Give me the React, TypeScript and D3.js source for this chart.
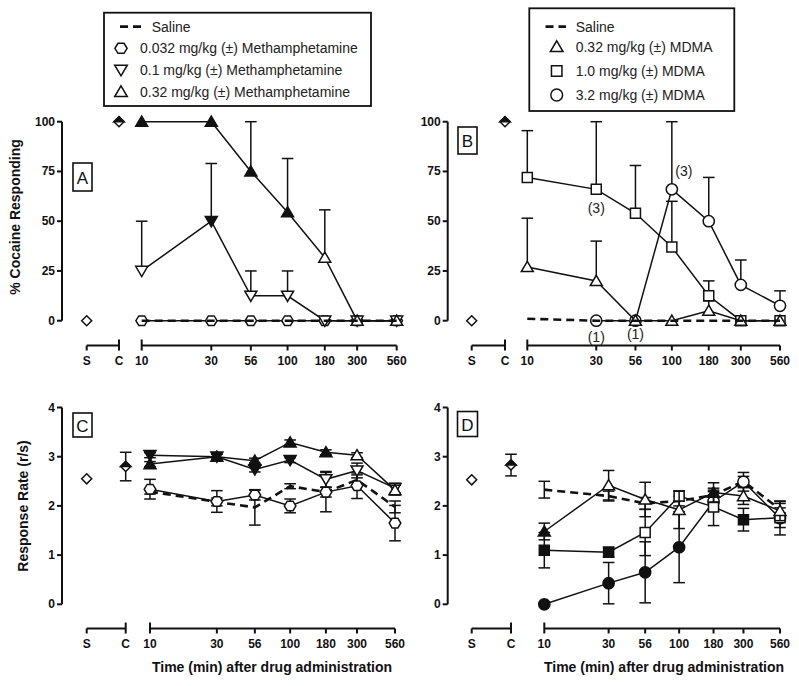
import React from "react";
import * as d3 from "d3";

// ---------- shared axis data ----------
const timePoints = [10, 30, 56, 100, 180, 300, 560];
const timeTickLabels = ["10", "30", "56", "100", "180", "300", "560"];
const controlLabels = ["S", "C"];
const pctTicks = [0, 25, 50, 75, 100];
const rateTicks = [0, 1, 2, 3, 4];

// ---------- Panel A: % cocaine responding, methamphetamine ----------
const salineA = [0, 0, 0, 0, 0, 0, 0];
const meth0032A = [0, 0, 0, 0, 0, 0, 0];
const meth01A = [25, 50, 12.5, 12.5, 0, 0, 0];
const meth01AErr = [25, 29, 12.5, 12.5, 0, 0, 0];
const meth01AFilled = [false, true, false, false, false, false, false];
const meth032A = [100, 100, 75, 54.5, 31.7, 0, 0];
const meth032AErr = [0, 0, 25, 27, 24, 0, 0];
const meth032AFilled = [true, true, true, true, false, false, false];
const controlsA = [0, 100];

// ---------- Panel B: % cocaine responding, MDMA ----------
const salineB = [1, 0, 0, 0, 0, 0, 0];
const mdma032B = [27, 20, 0, 0, 5, 0, 0];
const mdma032BErr = [24.5, 20, 0, 0, 5, 0, 0];
const mdma1B = [72, 66, 54, 37, 12.5, 0, 0];
const mdma1BErr = [23.5, 34, 24, 23, 7.5, 0, 0];
const mdma32B: (number | null)[] = [null, 0, 0, 66, 50, 18, 7.5];
const mdma32BErr = [0, 0, 0, 34, 22, 12.5, 7.5];
const controlsB = [0, 100];
const annotTimesB = [30, 30, 56, 100];
const annotTextsB = ["(3)", "(1)", "(1)", "(3)"];
const annotValuesB = [56.5, -8, -6.8, 75.4];

// ---------- Panel C: response rate, methamphetamine ----------
const salineC = [2.29, 2.08, 1.97, 2.4, 2.28, 2.53, 1.98];
const salineCErr = [0.05, 0.08, 0.36, 0.05, 0.1, 0.1, 0.12];
const meth0032C = [2.34, 2.09, 2.22, 2.0, 2.28, 2.41, 1.65];
const meth0032CErr = [0.2, 0.22, 0.1, 0.14, 0.4, 0.26, 0.36];
const meth01C = [3.03, 3.0, 2.74, 2.93, 2.54, 2.72, 2.36];
const meth01CErr = [0.05, 0.05, 0.05, 0.05, 0.16, 0.15, 0.1];
const meth01CFilled = [true, true, true, true, false, false, false];
const meth032C = [2.85, 3.0, 2.92, 3.29, 3.09, 3.03, 2.32];
const meth032CErr = [0.05, 0.05, 0.05, 0.05, 0.05, 0.05, 0.1];
const meth032CFilled = [true, true, true, true, true, false, false];
const controlsC = [2.55, 2.8];
const controlErrC = 0.29;

// ---------- Panel D: response rate, MDMA ----------
const salineD = [2.33, 2.2, 2.05, 2.1, 2.22, 2.5, 1.93];
const salineDErr = [0.17, 0.1, 0.12, 0.1, 0.1, 0.1, 0.12];
const mdma032D = [1.48, 2.42, 2.13, 1.92, 2.27, 2.2, 1.9];
const mdma032DErr = [0.17, 0.3, 0.35, 0.38, 0.2, 0.17, 0.2];
const mdma032DFilled = [true, false, false, false, true, false, false];
const mdma1D = [1.1, 1.06, 1.46, 2.2, 1.98, 1.72, 1.76];
const mdma1DErr = [0.36, 0.1, 0.47, 0.1, 0.38, 0.23, 0.2];
const mdma1DFilled = [true, true, false, false, false, true, false];
const mdma32D = [0.0, 0.43, 0.65, 1.16, 2.09, 2.49, 1.75];
const mdma32DErr = [0, 0.42, 0.62, 0.72, 0.2, 0.19, 0.34];
const mdma32DFilled = [true, true, true, true, false, false, false];
const controlsD = [2.53, 2.83];
const controlErrD = 0.22;

// ---------- legends ----------
const legendLeftLabels = [
  "Saline",
  "0.032 mg/kg (\u00b1) Methamphetamine",
  "0.1 mg/kg (\u00b1) Methamphetamine",
  "0.32 mg/kg (\u00b1) Methamphetamine",
];
const legendLeftShapes: Shape[] = ["dash", "hexagon", "triDown", "triUp"];
const legendRightLabels = [
  "Saline",
  "0.32 mg/kg (\u00b1) MDMA",
  "1.0 mg/kg (\u00b1) MDMA",
  "3.2 mg/kg (\u00b1) MDMA",
];
const legendRightShapes: Shape[] = ["dash", "triUp", "square", "circle"];

// ---------- drawing helpers ----------
type Shape = "triUp" | "triDown" | "square" | "circle" | "hexagon" | "diamond" | "dash" | "none";
const FONT = "'Liberation Sans', Arial, Helvetica, sans-serif";
const INK = "#111";

interface Series {
  values: (number | null)[];
  errs: number[];
  filled: boolean[];
  shape: Shape;
  dashed?: boolean;
}

const allFalse = timePoints.map(() => false);
const zeros = timePoints.map(() => 0);

function shapePath(shape: Shape, k = 1): string {
  switch (shape) {
    case "triUp":
      return `M0,${-5.6 * k}L${6 * k},${4.6 * k}L${-6 * k},${4.6 * k}Z`;
    case "triDown":
      return `M0,${5.6 * k}L${6 * k},${-4.6 * k}L${-6 * k},${-4.6 * k}Z`;
    case "square":
      return `M${-5 * k},${-5 * k}h${10 * k}v${10 * k}h${-10 * k}Z`;
    case "hexagon": {
      const r = 5.8 * k;
      const pts = d3.range(6).map((i) => {
        const a = (Math.PI / 3) * i;
        return [r * Math.cos(a), r * 0.95 * Math.sin(a)];
      });
      return "M" + pts.map((p) => p.join(",")).join("L") + "Z";
    }
    case "diamond":
      return `M0,${-5 * k}L${5 * k},0L0,${5 * k}L${-5 * k},0Z`;
    default:
      return "";
  }
}

function Marker({ shape, cx, cy, filled, k = 1 }: { shape: Shape; cx: number; cy: number; filled: boolean; k?: number }) {
  const fill = filled ? INK : "#fff";
  if (shape === "circle") {
    return <circle cx={cx} cy={cy} r={5.6 * k} fill={fill} stroke={INK} strokeWidth={1.5} />;
  }
  return (
    <path d={shapePath(shape, k)} transform={`translate(${cx},${cy})`} fill={fill} stroke={INK} strokeWidth={1.5} strokeLinejoin="miter" />
  );
}

interface PanelCfg {
  xRange: [number, number];
  scRange: [number, number];
  yRange: [number, number];
  yTicks: number[];
  axisX: number;
  bracketY: number;
  box: { x: number; y: number; w: number; h: number; text: string };
  series: Series[];
  saline: Series;
  salineFirst: boolean;
  errBoth: boolean;
  controls: number[];
  controlErr: number;
  annotations?: { t: number; v: number; text: string; dx: number }[];
}

function Panel({ cfg }: { cfg: PanelCfg }) {
  const x = d3.scaleLog().domain([timePoints[0], timePoints[timePoints.length - 1]]).range(cfg.xRange);
  const xc = d3.scalePoint<string>().domain(controlLabels).range(cfg.scRange);
  const y = d3
    .scaleLinear()
    .domain([cfg.yTicks[0], cfg.yTicks[cfg.yTicks.length - 1]])
    .range(cfg.yRange);
  const lineGen = d3
    .line<number | null>()
    .defined((v) => v != null)
    .x((_, i) => x(timePoints[i]))
    .y((v) => y(v as number));

  const ordered = cfg.salineFirst ? [cfg.saline, ...cfg.series] : [...cfg.series, cfg.saline];
  const cap = 5.8;

  const renderSeries = (s: Series, si: number) => (
    <g key={si}>
      <path
        d={lineGen(s.values) || ""}
        fill="none"
        stroke={INK}
        strokeWidth={s.dashed ? 2.6 : 1.5}
        strokeDasharray={s.dashed ? "8,5" : undefined}
      />
      {s.values.map((v, i) => {
        const e = s.errs[i];
        if (v == null || !e) return null;
        const px = x(timePoints[i]);
        const top = y(v + e);
        const bot = cfg.errBoth ? y(v - e) : y(v);
        return (
          <g key={"e" + i} stroke={INK} strokeWidth={1.5}>
            <line x1={px} x2={px} y1={top} y2={bot} />
            <line x1={px - cap} x2={px + cap} y1={top} y2={top} />
            {cfg.errBoth && <line x1={px - cap} x2={px + cap} y1={bot} y2={bot} />}
          </g>
        );
      })}
      {s.shape !== "none" &&
        s.values.map((v, i) =>
          v == null ? null : <Marker key={"m" + i} shape={s.shape} cx={x(timePoints[i])} cy={y(v)} filled={s.filled[i]} />
        )}
    </g>
  );

  const sx = xc("S") as number;
  const cx = xc("C") as number;
  const cy = y(cfg.controls[1]);
  const d = 5.2;

  return (
    <g>
      {/* y axis */}
      <line x1={cfg.axisX} x2={cfg.axisX} y1={cfg.yRange[0]} y2={cfg.yRange[1]} stroke={INK} strokeWidth={2} />
      {cfg.yTicks.map((t) => (
        <g key={t}>
          <line x1={cfg.axisX - 5} x2={cfg.axisX} y1={y(t)} y2={y(t)} stroke={INK} strokeWidth={2} />
          <text
            x={cfg.axisX - 7}
            y={y(t)}
            textAnchor="end"
            dominantBaseline="central"
            fontFamily={FONT}
            fontWeight="bold"
            fontSize={12}
            fill={INK}
          >
            {t}
          </text>
        </g>
      ))}
      {/* x axis: control segment and time segment */}
      <g stroke={INK} strokeWidth={2}>
        <line x1={sx} x2={cx} y1={cfg.bracketY} y2={cfg.bracketY} />
        <line x1={sx} x2={sx} y1={cfg.bracketY} y2={cfg.bracketY + 5} />
        <line x1={cx} x2={cx} y1={cfg.bracketY - 6} y2={cfg.bracketY + 5} />
        <line x1={cfg.xRange[0]} x2={cfg.xRange[1]} y1={cfg.bracketY} y2={cfg.bracketY} />
        {timePoints.map((t, i) => (
          <line key={t} x1={x(t)} x2={x(t)} y1={i === 0 ? cfg.bracketY - 6 : cfg.bracketY} y2={cfg.bracketY + 5} />
        ))}
      </g>
      {controlLabels.map((c) => (
        <text
          key={c}
          x={xc(c) as number}
          y={cfg.bracketY + 15}
          textAnchor="middle"
          dominantBaseline="central"
          fontFamily={FONT}
          fontWeight="bold"
          fontSize={12}
          fill={INK}
        >
          {c}
        </text>
      ))}
      {timePoints.map((t, i) => (
        <text
          key={t}
          x={x(t)}
          y={cfg.bracketY + 15}
          textAnchor="middle"
          dominantBaseline="central"
          fontFamily={FONT}
          fontWeight="bold"
          fontSize={12}
          fill={INK}
        >
          {timeTickLabels[i]}
        </text>
      ))}
      {/* panel letter */}
      <rect x={cfg.box.x} y={cfg.box.y} width={cfg.box.w} height={cfg.box.h} fill="#fff" stroke={INK} strokeWidth={1.6} />
      <text
        x={cfg.box.x + cfg.box.w / 2}
        y={cfg.box.y + cfg.box.h / 2 + 1}
        textAnchor="middle"
        dominantBaseline="central"
        fontFamily={FONT}
        fontSize={17}
        fill={INK}
      >
        {cfg.box.text}
      </text>
      {/* control points */}
      <path d={shapePath("diamond")} transform={`translate(${sx},${y(cfg.controls[0])})`} fill="#fff" stroke={INK} strokeWidth={1.5} />
      {cfg.controlErr > 0 && (
        <g stroke={INK} strokeWidth={1.5}>
          <line x1={cx} x2={cx} y1={y(cfg.controls[1] + cfg.controlErr)} y2={y(cfg.controls[1] - cfg.controlErr)} />
          <line x1={cx - cap} x2={cx + cap} y1={y(cfg.controls[1] + cfg.controlErr)} y2={y(cfg.controls[1] + cfg.controlErr)} />
          <line x1={cx - cap} x2={cx + cap} y1={y(cfg.controls[1] - cfg.controlErr)} y2={y(cfg.controls[1] - cfg.controlErr)} />
        </g>
      )}
      <path d={shapePath("diamond")} transform={`translate(${cx},${cy})`} fill="#fff" stroke={INK} strokeWidth={1.5} />
      <path d={`M${-d},0L0,${-d}L${d},0Z`} transform={`translate(${cx},${cy})`} fill={INK} stroke={INK} strokeWidth={1.5} />
      {/* series */}
      {ordered.map(renderSeries)}
      {cfg.annotations &&
        cfg.annotations.map((a, i) => (
          <text
            key={i}
            x={x(a.t) + a.dx}
            y={y(a.v)}
            textAnchor="middle"
            dominantBaseline="central"
            fontFamily={FONT}
            fontSize={14}
            fill="#222"
          >
            {a.text}
          </text>
        ))}
    </g>
  );
}

function Legend({ x, y, w, h, rows, labels, shapes, symX, textX, salineTextX, dashX1, dashX2 }: any) {
  return (
    <g>
      <rect x={x} y={y} width={w} height={h} fill="#fff" stroke={INK} strokeWidth={1.8} />
      {labels.map((lab: string, i: number) => {
        const sh: Shape = shapes[i];
        const ry = rows[i];
        return (
          <g key={i}>
            {sh === "dash" ? (
              <line x1={dashX1} x2={dashX2} y1={ry} y2={ry} stroke={INK} strokeWidth={2.8} strokeDasharray="8,5" />
            ) : (
              <Marker shape={sh} cx={symX} cy={ry} filled={false} k={1.05} />
            )}
            <text
              x={sh === "dash" ? salineTextX : textX}
              y={ry}
              dominantBaseline="central"
              fontFamily={FONT}
              fontSize={14}
              fill="#222"
            >
              {lab}
            </text>
          </g>
        );
      })}
    </g>
  );
}

export default function App() {
  const topRange: [number, number] = [320.7, 121.7];
  const botRange: [number, number] = [604.3, 407.5];

  const panels: PanelCfg[] = [
    {
      xRange: [141.7, 396.7],
      scRange: [86.7, 119],
      yRange: topRange,
      yTicks: pctTicks,
      axisX: 62,
      bracketY: 345.5,
      box: { x: 73, y: 163, w: 19, h: 28, text: "A" },
      saline: { values: salineA, errs: zeros, filled: allFalse, shape: "none", dashed: true },
      series: [
        { values: meth0032A, errs: zeros, filled: allFalse, shape: "hexagon" },
        { values: meth01A, errs: meth01AErr, filled: meth01AFilled, shape: "triDown" },
        { values: meth032A, errs: meth032AErr, filled: meth032AFilled, shape: "triUp" },
      ],
      salineFirst: false,
      errBoth: false,
      controls: controlsA,
      controlErr: 0,
    },
    {
      xRange: [527.3, 780],
      scRange: [471.7, 505],
      yRange: topRange,
      yTicks: pctTicks,
      axisX: 447.7,
      bracketY: 345.5,
      box: { x: 458, y: 127, w: 19, h: 27, text: "B" },
      saline: { values: salineB, errs: zeros, filled: allFalse, shape: "none", dashed: true },
      series: [
        { values: mdma32B, errs: mdma32BErr, filled: allFalse, shape: "circle" },
        { values: mdma1B, errs: mdma1BErr, filled: allFalse, shape: "square" },
        { values: mdma032B, errs: mdma032BErr, filled: allFalse, shape: "triUp" },
      ],
      salineFirst: false,
      errBoth: false,
      controls: controlsB,
      controlErr: 0,
      annotations: annotTimesB.map((t, i) => ({ t, v: annotValuesB[i], text: annotTextsB[i], dx: i === 3 ? 12 : 0 })),
    },
    {
      xRange: [150, 395],
      scRange: [86.7, 125.7],
      yRange: botRange,
      yTicks: rateTicks,
      axisX: 62,
      bracketY: 628.5,
      box: { x: 73, y: 413, w: 19, h: 24, text: "C" },
      saline: { values: salineC, errs: salineCErr, filled: allFalse, shape: "none", dashed: true },
      series: [
        { values: meth0032C, errs: meth0032CErr, filled: allFalse, shape: "hexagon" },
        { values: meth01C, errs: meth01CErr, filled: meth01CFilled, shape: "triDown" },
        { values: meth032C, errs: meth032CErr, filled: meth032CFilled, shape: "triUp" },
      ],
      salineFirst: true,
      errBoth: true,
      controls: controlsC,
      controlErr: controlErrC,
    },
    {
      xRange: [544.3, 780],
      scRange: [471.7, 511],
      yRange: botRange,
      yTicks: rateTicks,
      axisX: 447.7,
      bracketY: 628.5,
      box: { x: 457.5, y: 411.5, w: 20, h: 25, text: "D" },
      saline: { values: salineD, errs: salineDErr, filled: allFalse, shape: "none", dashed: true },
      series: [
        { values: mdma32D, errs: mdma32DErr, filled: mdma32DFilled, shape: "circle" },
        { values: mdma1D, errs: mdma1DErr, filled: mdma1DFilled, shape: "square" },
        { values: mdma032D, errs: mdma032DErr, filled: mdma032DFilled, shape: "triUp" },
      ],
      salineFirst: true,
      errBoth: true,
      controls: controlsD,
      controlErr: controlErrD,
    },
  ];

  return (
    <svg
      width={799}
      height={686}
      viewBox="0 0 799 686"
      style={{ position: "absolute", left: 0, top: 0, background: "#fff" }}
    >
      <rect x={0} y={0} width={799} height={686} fill="#fff" />
      <Legend
        x={104}
        y={12.7}
        w={267}
        h={93.3}
        rows={[26.7, 48.3, 70, 91.7]}
        labels={legendLeftLabels}
        shapes={legendLeftShapes}
        symX={121}
        textX={140}
        salineTextX={151.7}
        dashX1={120}
        dashX2={142}
      />
      <Legend
        x={529.3}
        y={8.3}
        w={205}
        h={102.7}
        rows={[26.7, 46.7, 71, 95]}
        labels={legendRightLabels}
        shapes={legendRightShapes}
        symX={556.7}
        textX={575.7}
        salineTextX={575.7}
        dashX1={545.5}
        dashX2={566}
      />
      {panels.map((p, i) => (
        <Panel key={i} cfg={p} />
      ))}
      {/* axis titles */}
      <text
        transform="translate(15,217) rotate(-90)"
        textAnchor="middle"
        dominantBaseline="central"
        fontFamily={FONT}
        fontWeight="bold"
        fontSize={14}
        fill={INK}
      >
        % Cocaine Responding
      </text>
      <text
        transform="translate(23,506) rotate(-90)"
        textAnchor="middle"
        dominantBaseline="central"
        fontFamily={FONT}
        fontWeight="bold"
        fontSize={14}
        fill={INK}
      >
        Response Rate (r/s)
      </text>
      <text x={272} y={667} textAnchor="middle" dominantBaseline="central" fontFamily={FONT} fontWeight="bold" fontSize={14} fill={INK}>
        Time (min) after drug administration
      </text>
      <text x={664} y={667} textAnchor="middle" dominantBaseline="central" fontFamily={FONT} fontWeight="bold" fontSize={14} fill={INK}>
        Time (min) after drug administration
      </text>
    </svg>
  );
}
